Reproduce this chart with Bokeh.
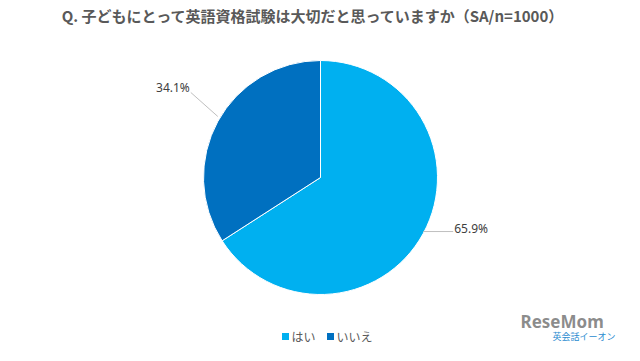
import numpy as np
from bokeh.plotting import figure
from bokeh.models import Range1d
from bokeh.core.properties import value
from bokeh.embed import file_html
from bokeh.resources import INLINE

categories = ["はい", "いいえ"]
shares = [65.9, 34.1]
colors = ["#00B0F0", "#0070C0"]
title = "Q. 子どもにとって英語資格試験は大切だと思っていますか（SA/n=1000）"

W, H = 624, 345
p = figure(width=W, height=H, output_backend="svg", toolbar_location=None,
           x_range=Range1d(0, W), y_range=Range1d(0, H), min_border=0)
p.axis.visible = False
p.grid.visible = False
p.outline_line_color = None
p.background_fill_color = "white"

def X(px):
    return px
def Y(py):
    return H - py

cx, cy, r = X(320), Y(177), 117
frac = np.array(shares) / sum(shares)
cum = np.concatenate([[0], np.cumsum(frac)])
starts = np.pi / 2 - cum[:-1] * 2 * np.pi
ends = np.pi / 2 - cum[1:] * 2 * np.pi
p.wedge(x=cx, y=cy, radius=r, start_angle=list(starts), end_angle=list(ends),
        direction="clock", fill_color=colors, line_color="white", line_width=1)

# labels with leader lines
for i, (s, e) in enumerate(zip(starts, ends)):
    mid = (s + e) / 2
    ex, ey = cx + r * np.cos(mid), cy + r * np.sin(mid)
    lbl = f"{shares[i]:.1f}%"
    if np.cos(mid) >= 0:
        p.line([ex, ex + 30], [ey + 2, ey + 2], line_color="#BFBFBF", line_width=1)
        p.text([ex + 31], [ey + 5], text=[lbl], text_font=value("Noto Sans"),
               text_font_size="12px", text_color="#404040",
               text_align="left", text_baseline="middle")
    else:
        p.line([ex, ex - 27], [ey + 5, ey + 29], line_color="#BFBFBF", line_width=1)
        p.text([ex - 28], [ey + 34], text=[lbl], text_font=value("Noto Sans"),
               text_font_size="12px", text_color="#404040",
               text_align="right", text_baseline="middle")

# title
p.text([X(313)], [Y(15)], text=[title], text_font=value("Noto Sans CJK JP"),
       text_font_size="15px", text_font_style="bold", text_color="#595959",
       text_align="center", text_baseline="middle")

# legend
lx = [X(285), X(330)]
ly = Y(336)
p.scatter(lx, [ly, ly], marker="square", size=7, fill_color=colors, line_color=None)
p.text([x + 6 for x in lx], [ly, ly], text=categories, text_font=value("Noto Sans CJK JP"),
       text_font_size="12px", text_color="#595959", text_align="left", text_baseline="middle")

# watermark
p.text([X(520)], [Y(321)], text=["ReseMom"], text_font=value("Noto Sans"),
       text_font_size="17px", text_font_style="bold", text_color="#777777",
       text_alpha=0.85, text_align="left", text_baseline="middle")
p.text([X(552)], [Y(336)], text=["英会話イーオン"], text_font=value("Noto Sans CJK JP"),
       text_font_size="9px", text_color="#2A8BD0",
       text_align="left", text_baseline="middle")

open("out.html", "w").write(file_html(p, INLINE))
